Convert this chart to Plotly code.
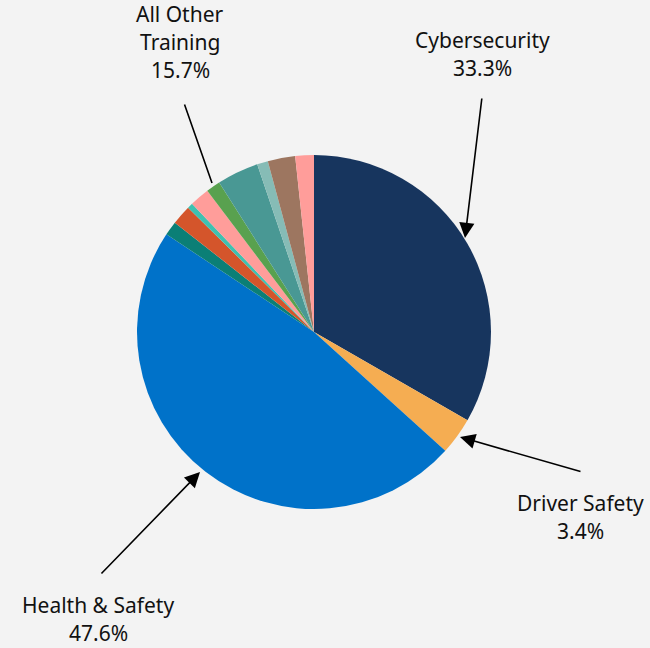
import plotly.graph_objects as go

W, H = 650, 648

categories = ["Cybersecurity", "Driver Safety", "Health & Safety",
              "Other A", "Other B", "Other C", "Other D", "Other E",
              "Other F", "Other G", "Other H", "Other I"]
values = [33.3, 3.4, 47.6, 1.3, 1.8, 0.5, 1.8, 1.3, 3.8, 1.0, 2.5, 1.7]
colors = ["#17355E", "#F5AD52", "#0072C9", "#0B7F76", "#D4552B", "#3FC1B0",
          "#FF9D9A", "#59A14F", "#499894", "#86BCB6", "#9D7660", "#FF9D9A"]

label_lines = {
    "Cybersecurity": ["Cybersecurity", "33.3%"],
    "Driver Safety": ["Driver Safety", "3.4%"],
    "Health & Safety": ["Health & Safety", "47.6%"],
    "All Other": ["All Other", "Training", "15.7%"],
}

cx, cy, r = 314, 332, 177

fig = go.Figure(go.Pie(
    labels=categories, values=values, sort=False, direction="clockwise",
    rotation=0, marker=dict(colors=colors, line=dict(width=0)),
    textinfo="none", hoverinfo="label+percent", showlegend=False,
    domain=dict(x=[(cx - r) / W, (cx + r) / W],
                y=[(H - cy - r) / H, (H - cy + r) / H]),
))

def px(x):
    return x / W

def py(y):
    return 1 - y / H

anns = []
font = dict(family="Noto Sans", size=21, color="#111111")

def text_block(lines, x, y0, step=28):
    for i, t in enumerate(lines):
        anns.append(dict(x=px(x), y=py(y0 + i * step), xref="paper", yref="paper",
                         text=t, showarrow=False, font=font,
                         xanchor="center", yanchor="middle"))

text_block(label_lines["Cybersecurity"], 482, 40)
text_block(label_lines["Driver Safety"], 580, 503)
text_block(label_lines["Health & Safety"], 98, 605)
text_block(label_lines["All Other"], 180, 14)

def arrow(tip, tail, head=True):
    anns.append(dict(x=px(tip[0]), y=py(tip[1]), xref="paper", yref="paper",
                     ax=tail[0] - tip[0], ay=tail[1] - tip[1],
                     axref="pixel", ayref="pixel", text="", showarrow=True,
                     arrowhead=2 if head else 0, arrowsize=1.9, arrowwidth=1.6,
                     arrowcolor="#000000"))

arrow((465, 238), (482, 97))
arrow((460, 437), (582, 472))
arrow((200, 472), (100, 575))
arrow((212, 183), (184, 103), head=False)

fig.update_layout(width=W, height=H, margin=dict(l=0, r=0, t=0, b=0),
                  paper_bgcolor="#F3F3F3", plot_bgcolor="#F3F3F3",
                  annotations=anns)

fig.write_html("out.html", config={"displayModeBar": False},
               post_script="document.body.style.margin='0';document.body.style.overflow='hidden';")
